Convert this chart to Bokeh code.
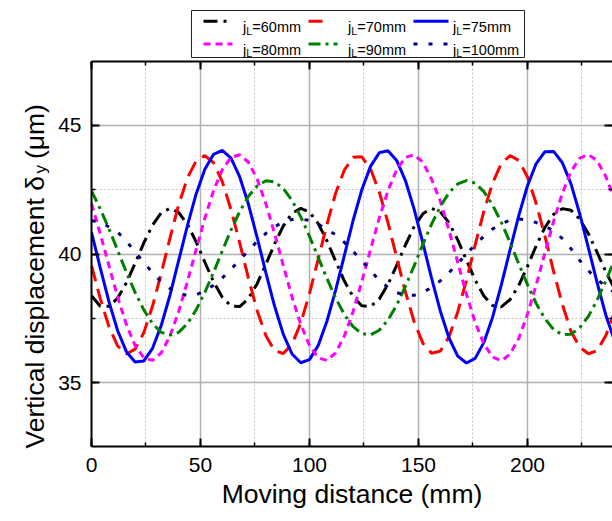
import math
from bokeh.plotting import figure
from bokeh.models import Range1d, LinearAxis, SingleIntervalTicker, Label, CustomJSTickFormatter
from bokeh.layouts import column
from bokeh.core.properties import value
from bokeh.embed import file_html
from bokeh.resources import INLINE

FONT = "Liberation Sans"

# ---------------- data ----------------
distance = list(range(0, 241, 4))

disp_60 = [38.38, 37.97, 37.97, 38.29, 38.88, 39.64, 40.43, 41.12, 41.60, 41.77,
           41.61, 41.15, 40.47, 39.68, 38.92, 38.32, 37.98, 37.96, 38.27, 38.85,
           39.60, 40.39, 41.09, 41.58, 41.77, 41.63, 41.18, 40.51, 39.72, 38.95,
           38.34, 37.99, 37.96, 38.25, 38.82, 39.56, 40.35, 41.06, 41.56, 41.77,
           41.64, 41.21, 40.55, 39.76, 38.99, 38.37, 38.00, 37.95, 38.23, 38.78,
           39.52, 40.32, 41.03, 41.54, 41.76, 41.70, 41.35, 40.78, 40.05, 39.30,
           38.65]

disp_70 = [39.55, 38.28, 37.18, 36.43, 36.12, 36.31, 36.95, 37.98, 39.25, 40.62,
           41.91, 42.95, 43.61, 43.82, 43.54, 42.81, 41.72, 40.42, 39.05, 37.80,
           36.83, 36.25, 36.14, 36.51, 37.32, 38.47, 39.80, 41.15, 42.36, 43.26,
           43.75, 43.77, 43.30, 42.41, 41.22, 39.87, 38.53, 37.37, 36.54, 36.15,
           36.23, 36.79, 37.75, 38.98, 40.35, 41.66, 42.76, 43.51, 43.82, 43.63,
           42.99, 41.96, 40.69, 39.32, 38.04, 36.99, 36.38, 36.13, 36.25, 36.85,
           37.75]

disp_75 = [40.84, 39.47, 38.15, 37.02, 36.21, 35.81, 35.85, 36.34, 37.23, 38.40,
           39.75, 41.10, 42.33, 43.29, 43.87, 44.02, 43.72, 42.99, 41.93, 40.64,
           39.27, 37.97, 36.88, 36.12, 35.78, 35.90, 36.45, 37.39, 38.60, 39.95,
           41.30, 42.49, 43.40, 43.93, 44.01, 43.63, 42.85, 41.74, 40.43, 39.06,
           37.79, 36.74, 36.04, 35.77, 35.95, 36.57, 37.55, 38.80, 40.16, 41.49,
           42.65, 43.51, 43.97, 43.98, 43.54, 42.71, 41.55, 40.22, 38.87, 37.61,
           36.61]

disp_80 = [41.95, 40.79, 39.55, 38.33, 37.26, 36.45, 35.97, 35.87, 36.16, 36.82,
           37.77, 38.93, 40.17, 41.39, 42.46, 43.27, 43.75, 43.85, 43.56, 42.90,
           41.95, 40.79, 39.55, 38.33, 37.26, 36.45, 35.97, 35.87, 36.16, 36.82,
           37.77, 38.93, 40.17, 41.39, 42.46, 43.27, 43.75, 43.85, 43.56, 42.90,
           42.05, 40.92, 39.68, 38.44, 37.35, 36.51, 36.00, 35.86, 36.11, 36.73,
           37.66, 38.80, 40.04, 41.27, 42.36, 43.21, 43.72, 43.86, 43.61, 43.00,
           42.10]

disp_90 = [42.45, 41.75, 40.98, 40.14, 39.29, 38.51, 37.83, 37.30, 36.96, 36.85,
           36.96, 37.30, 37.83, 38.51, 39.29, 40.12, 40.93, 41.65, 42.24, 42.64,
           42.84, 42.80, 42.54, 42.08, 41.44, 40.69, 39.87, 39.05, 38.29, 37.65,
           37.18, 36.91, 36.86, 37.04, 37.44, 38.02, 38.74, 39.54, 40.37, 41.16,
           41.84, 42.38, 42.72, 42.85, 42.75, 42.42, 41.90, 41.23, 40.45, 39.62,
           38.81, 38.08, 37.49, 37.07, 36.87, 36.89, 37.14, 37.59, 38.22, 38.97,
           39.79]

disp_100 = [41.29, 41.25, 41.05, 40.85, 40.50, 40.08, 39.68, 39.27, 38.92, 38.66,
            38.48, 38.39, 38.42, 38.57, 38.79, 39.07, 39.41, 39.77, 40.13, 40.49,
            40.80, 41.06, 41.24, 41.34, 41.36, 41.30, 41.16, 40.95, 40.75, 40.45,
            40.10, 39.75, 39.35, 38.98, 38.70, 38.50, 38.40, 38.40, 38.51, 38.70,
            38.96, 39.28, 39.63, 40.00, 40.36, 40.69, 40.97, 41.18, 41.31, 41.36,
            41.32, 41.22, 41.08, 40.90, 40.60, 40.20, 39.75, 39.35, 39.00, 38.75,
            38.50]

series_values = [disp_60, disp_70, disp_75, disp_80, disp_90, disp_100]
series_names = ["=60mm", "=70mm", "=75mm", "=80mm", "=90mm", "=100mm"]
x_tick_interval = 50
y_tick_interval = 5

# ---------------- styles ----------------
colors = ["#000000", "#ff0000", "#0000ff", "#ff00ff", "#008000", "#000080"]
dashes = ["14 6 3 6", "16 8", "solid", "7 5", "12 5 3 5", "4 11"]
widths = [3, 3, 3, 3, 3, 3]

# ---------------- legend figure (its frame is aligned with the main frame: x 91..612) ----
LEG_H = 58
leg = figure(width=612, height=LEG_H, x_range=Range1d(91, 612), y_range=Range1d(LEG_H, 0),
             x_axis_type=None, y_axis_type=None, output_backend="svg",
             toolbar_location=None, min_border=0)
leg.grid.visible = False
leg.outline_line_color = None
leg.background_fill_color = "white"
leg.border_fill_color = "white"

leg.quad(left=[191], right=[524], top=[10], bottom=[57], fill_color="white",
         line_color="#202020", line_width=1)

col_sample_start = [203, 308, 413]
sample_end = [229, 322, 448, 232, 337, 447]
col_text_x = [242.5, 347.5, 452.5]
row_center = [20.7, 43.5]
row_base = [26.5, 49.3]

for i in range(6):
    c, r = i % 3, i // 3
    leg.line(x=[col_sample_start[c], sample_end[i]], y=[row_center[r], row_center[r]],
             line_color=colors[i], line_dash=dashes[i], line_width=widths[i])
    tx = col_text_x[c]
    leg.text(x=[tx], y=[row_base[r]], text=["j"], text_font=value(FONT),
             text_font_size="14.5px", text_baseline="alphabetic", text_align="left",
             text_color="black")
    leg.text(x=[tx + 3.3], y=[row_base[r] + 3.6], text=["L"], text_font=value(FONT),
             text_font_size="10.5px", text_baseline="alphabetic", text_align="left",
             text_color="black")
    leg.text(x=[tx + 9.3], y=[row_base[r]], text=[series_names[i]], text_font=value(FONT),
             text_font_size="14.5px", text_baseline="alphabetic", text_align="left",
             text_color="black")

# ---------------- main figure ----------------
X0, X1 = 0, 239.0
Y0, Y1 = 32.53, 47.47
p = figure(frame_width=521, frame_height=385, x_range=Range1d(X0, X1), y_range=Range1d(Y0, Y1),
           output_backend="svg", toolbar_location=None,
           min_border_left=91, min_border_top=3, min_border_right=0, min_border_bottom=0)
p.outline_line_color = None
p.background_fill_color = "white"
p.border_fill_color = "white"

xt = SingleIntervalTicker(interval=x_tick_interval, num_minor_ticks=2)
yt = SingleIntervalTicker(interval=y_tick_interval, num_minor_ticks=2)

def style_axis(ax, ticker, labels=True):
    ax.ticker = ticker
    ax.axis_line_color = "black"
    ax.axis_line_width = 2
    ax.major_tick_in = 8
    ax.major_tick_out = 0
    ax.minor_tick_in = 4
    ax.minor_tick_out = 0
    ax.major_tick_line_width = 2
    ax.minor_tick_line_width = 1.5
    ax.major_tick_line_color = "black"
    ax.minor_tick_line_color = "black"
    if labels:
        ax.major_label_text_font = FONT
        ax.major_label_text_font_size = "21px"
        ax.major_label_text_color = "black"
    else:
        ax.formatter = CustomJSTickFormatter(code="return ''")
        ax.major_label_standoff = 0

style_axis(p.xaxis[0], xt)
style_axis(p.yaxis[0], yt)
p.xaxis[0].major_label_standoff = 11
p.yaxis[0].major_label_standoff = 10
p.xaxis[0].axis_label = "Moving distance (mm)"
p.xaxis[0].axis_label_text_font = FONT
p.xaxis[0].axis_label_text_font_size = "26.5px"
p.xaxis[0].axis_label_text_font_style = "normal"
p.xaxis[0].axis_label_text_color = "black"
p.xaxis[0].axis_label_standoff = 4

top_ax = LinearAxis()
style_axis(top_ax, xt, labels=False)
p.add_layout(top_ax, "above")
right_ax = LinearAxis()
style_axis(right_ax, yt, labels=False)
right_ax.axis_line_color = None
p.add_layout(right_ax, "right")

for g, t in ((p.xgrid[0], xt), (p.ygrid[0], yt)):
    g.ticker = t
    g.grid_line_color = "#b0b0b0"
    g.grid_line_width = 1.5
    g.minor_grid_line_color = "#c4c4c4"
    g.minor_grid_line_width = 1
    g.minor_grid_line_dash = "2 2"

for i in range(6):
    p.line(x=distance, y=series_values[i], line_color=colors[i], line_dash=dashes[i],
           line_width=widths[i])

# y-axis title with subscript: labels placed in the left side panel (not clipped to the frame)
p.add_layout(Label(x=-25.69, y=32.45, text="Vertical displacement δ\u00a0\u00a0\u200a(μm)",
                   angle=math.pi / 2, text_font=FONT, text_font_size="26.5px",
                   text_align="left", text_baseline="alphabetic", text_color="black"), "left")
p.add_layout(Label(x=-23.4, y=43.12, text="y", angle=math.pi / 2,
                   text_font=FONT, text_font_size="17px", text_align="left",
                   text_baseline="alphabetic", text_color="black"), "left")

layout = column(leg, p, spacing=0)
open("out.html", "w").write(file_html(layout, INLINE))
